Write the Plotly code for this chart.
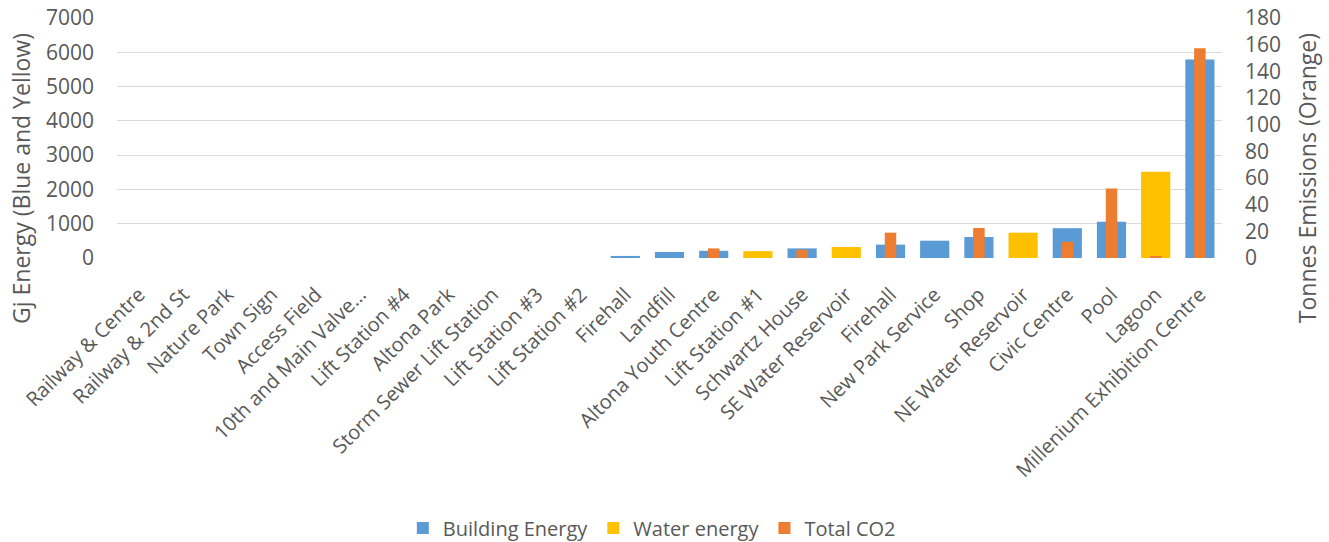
import plotly.graph_objects as go

# Facility names along the x axis (two separate "Firehall" sites)
facilities = [
    "Railway & Centre", "Railway & 2nd St", "Nature Park", "Town Sign", "Access Field",
    "10th and Main Valve…", "Lift Station #4", "Altona Park", "Storm Sewer Lift Station",
    "Lift Station #3", "Lift Station #2", "Firehall", "Landfill", "Altona Youth Centre",
    "Lift Station #1", "Schwartz House", "SE Water Reservoir", "Firehall", "New Park Service",
    "Shop", "NE Water Reservoir", "Civic Centre", "Pool", "Lagoon", "Millenium Exhibition Centre",
]

# Energy use in GJ
building_energy = [0, 0, 0, 0, 0, 0, 0, 0, 0, 0, 0, 60, 175, 210, 0, 280, 0, 390, 505,
                   612, 0, 870, 1058, 0, 5790]
water_energy = [0, 0, 0, 0, 0, 0, 0, 0, 0, 0, 0, 0, 0, 0, 200, 0, 320, 0, 0,
                0, 738, 0, 0, 2515, 0]
# Emissions in tonnes CO2
total_co2 = [0, 0, 0, 0, 0, 0, 0, 0, 0, 0, 0, 0, 0, 7.2, 0, 6.2, 0, 19, 0,
             22.5, 0, 12.2, 52.1, 1.5, 157.3]

# numeric positions so duplicate names stay separate categories
pos = list(range(len(facilities)))

BLUE = "#5B9BD5"
YELLOW = "#FFC000"
ORANGE = "#ED7D31"
TEXT = "#595959"
GRID = "#D9D9D9"
FONT = "Open Sans"

fig = go.Figure()
fig.add_trace(go.Bar(x=pos, y=building_energy, name="Building Energy",
                     marker=dict(color=BLUE, line=dict(width=0)), width=0.66))
fig.add_trace(go.Bar(x=pos, y=water_energy, name="Water energy",
                     marker=dict(color=YELLOW, line=dict(width=0)), width=0.66))
fig.add_trace(go.Bar(x=pos, y=total_co2, name="Total CO2", yaxis="y2",
                     marker=dict(color=ORANGE, line=dict(width=0)), width=0.26))

# axis titles as rotated annotations so the plot area stays fixed
titles = [
    dict(text="Gj Energy (Blue and Yellow)", x=-0.087),
    dict(text="Tonnes Emissions (Orange)", x=1.077),
]
annotations = [
    dict(text=t["text"], x=t["x"], y=0.333, xref="paper", yref="paper",
         xanchor="center", yanchor="middle", textangle=-90, showarrow=False,
         font=dict(family=FONT, size=23, color=TEXT))
    for t in titles
]

fig.update_layout(
    width=1329, height=542,
    margin=dict(l=117, r=107, t=18, b=284, autoexpand=False),
    paper_bgcolor="white", plot_bgcolor="white",
    barmode="overlay",
    font=dict(family=FONT, color=TEXT, size=18),
    showlegend=True,
    legend=dict(orientation="h", x=0.484, xanchor="center", y=-1.125, yanchor="middle",
                font=dict(size=20, color=TEXT), traceorder="normal", itemwidth=30),
    annotations=annotations,
    xaxis=dict(
        range=[-0.5, len(facilities) - 0.5], automargin=False,
        tickmode="array", tickvals=pos, ticktext=facilities,
        tickangle=-45, tickfont=dict(size=20, color=TEXT), ticklabelstandoff=20,
        showgrid=False, zeroline=False, showline=False, ticks="",
    ),
    yaxis=dict(
        range=[0, 7000], dtick=1000, tickformat="d", automargin=False,
        showgrid=True, gridcolor=GRID, gridwidth=1, zeroline=False,
        showline=False, ticks="", ticklabelstandoff=22,
        tickfont=dict(size=21, color=TEXT),
    ),
    yaxis2=dict(
        range=[0, 180], dtick=20, overlaying="y", side="right", automargin=False,
        showgrid=False, zeroline=False, showline=False, ticks="", ticklabelstandoff=22,
        tickfont=dict(size=21, color=TEXT),
    ),
)

fig.write_html("out.html")
